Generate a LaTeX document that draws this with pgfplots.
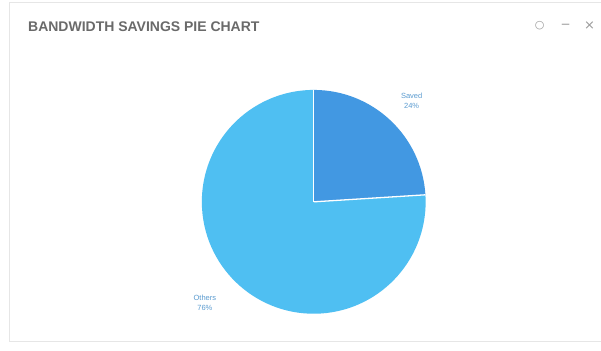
\documentclass[border=0pt]{standalone}
\usepackage{pgfplots}
\pgfplotsset{compat=1.18}
\usepackage{pgfplotstable}
\usepackage{fontspec}
\setmainfont{Liberation Sans}
\newfontfamily\symfont{DejaVu Sans}
\definecolor{savedcol}{HTML}{4298E2}
\definecolor{otherscol}{HTML}{4FBFF2}
\definecolor{labelcol}{HTML}{5A9BD0}
\definecolor{titlecol}{HTML}{6A6A6A}
\definecolor{cardline}{HTML}{E6E6E6}
\definecolor{iconcol}{HTML}{9A9A9A}

\pgfplotstableread{
label value
Saved 24
Others 76
}\piedata

\begin{document}
\begin{tikzpicture}
\begin{axis}[
  x=1pt, y=1pt,
  xmin=0, xmax=601, ymin=0, ymax=351,
  hide axis,
  clip=false,
]
% card background
\fill[white] (axis cs:0,0) rectangle (axis cs:601,351);
\draw[cardline, line width=1pt] (axis cs:601,348) -- (axis cs:9.5,348) -- (axis cs:9.5,9) -- (axis cs:601,9);

% title
\node[anchor=west, font=\fontsize{14}{16}\selectfont\bfseries, text=titlecol, inner sep=0pt]
  at (axis cs:28,324) {BANDWIDTH SAVINGS PIE CHART};

% window icons
\node[text=iconcol, font=\symfont\fontsize{11}{12}\selectfont, inner sep=0pt] at (axis cs:540,325) {○};
\node[text=iconcol, font=\symfont\fontsize{12}{12}\selectfont, inner sep=0pt] at (axis cs:566,325) {−};
\node[text=iconcol, font=\symfont\fontsize{13}{13}\selectfont, inner sep=0pt] at (axis cs:590,325) {×};

% pie from table
\pgfplotstablegetelem{0}{value}\of\piedata \let\vSaved\pgfplotsretval
\pgfplotstablegetelem{1}{value}\of\piedata \let\vOthers\pgfplotsretval
\pgfmathsetmacro{\total}{\vSaved+\vOthers}
\pgfmathsetmacro{\aA}{90}
\pgfmathsetmacro{\aB}{90-360*(\vSaved/\total)}
\pgfmathsetmacro{\aC}{\aB-360*(\vOthers/\total)}
\def\R{112}
\fill[otherscol] (axis cs:314,149) -- ++(\aB:\R) arc[start angle=\aB, end angle=\aC, radius=\R] -- cycle;
\fill[savedcol] (axis cs:314,149) -- ++(\aA:\R) arc[start angle=\aA, end angle=\aB, radius=\R] -- cycle;
\draw[white, line width=1.3pt] (axis cs:314,149) -- ++(\aA:\R);
\draw[white, line width=1.3pt] (axis cs:314,149) -- ++(\aB:\R);

% labels
\node[text=labelcol, font=\fontsize{7.5}{9.5}\selectfont, align=center, inner sep=0pt]
  at (axis cs:412,250) {Saved\\\vSaved\%};
\node[text=labelcol, font=\fontsize{7.5}{9.5}\selectfont, align=center, inner sep=0pt]
  at (axis cs:205,48) {Others\\\vOthers\%};
\end{axis}
\end{tikzpicture}
\end{document}
